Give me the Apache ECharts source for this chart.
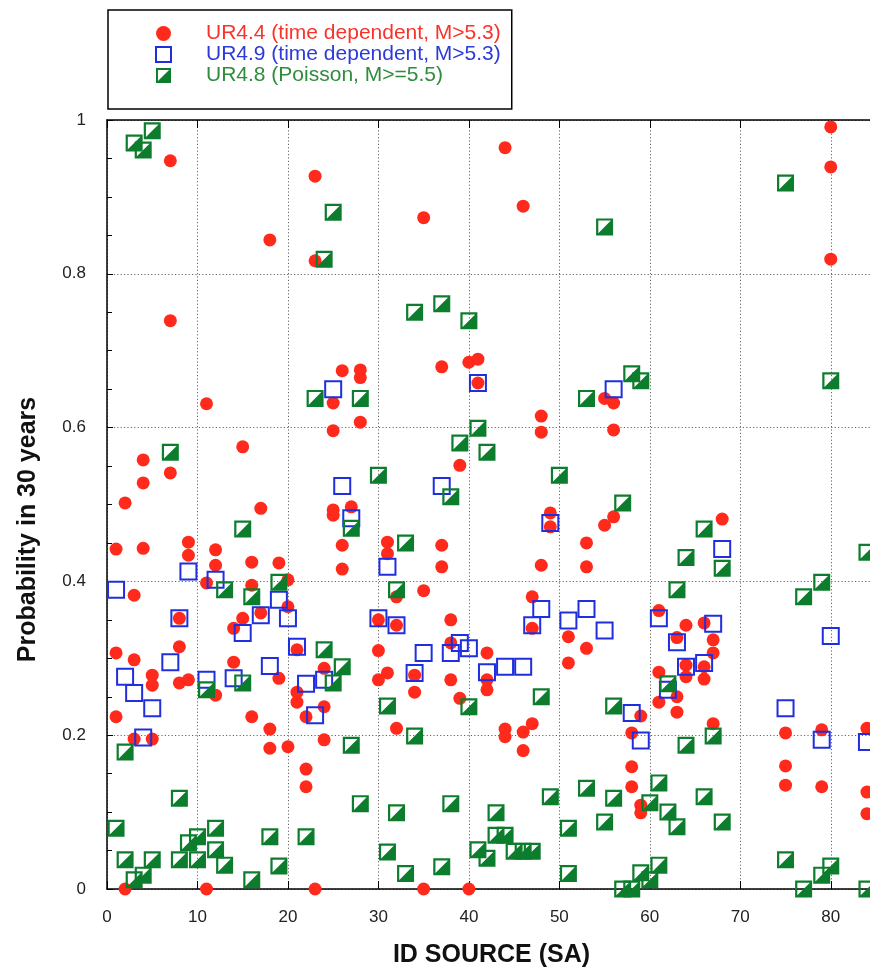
<!DOCTYPE html>
<html>
<head>
<meta charset="utf-8">
<script src="https://cdn.jsdelivr.net/npm/echarts@6/dist/echarts.min.js"></script>
<style>
  html, body { margin: 0; padding: 0; background: #fff; }
  #chart { width: 870px; height: 968px; }
</style>
</head>
<body>
<div id="chart"></div>
<script>
// ---- Data ----
const seriesNames = [
  'UR4.4 (time dependent, M>5.3)',
  'UR4.9 (time dependent, M>5.3)',
  'UR4.8 (Poisson, M>=5.5)'
];
const xTitle = 'ID SOURCE (SA)';
const yTitle = 'Probability in 30 years';

// UR4.4 (red circles): [ID source, probability]
const ur44 = [
  [7,0.947],[18,0.844],[7,0.739],[11,0.631],[15,0.575],[4,0.558],[7,0.541],[4,0.528],[2,0.502],[17,0.495],
  [1,0.442],[4,0.443],[9,0.451],[9,0.434],[12,0.441],[12,0.421],[16,0.425],[19,0.424],[11,0.398],[3,0.382],
  [16,0.395],[20,0.402],[17,0.359],[20,0.367],[15,0.352],[14,0.339],[8,0.352],[8,0.315],[1,0.307],[3,0.298],
  [14,0.295],[19,0.274],[5,0.278],[5,0.265],[8,0.268],[9,0.272],[12,0.252],[1,0.224],[16,0.224],[18,0.208],
  [18,0.183],[20,0.185],[3,0.195],[5,0.195],[2,0],[11,0],
  [23,0.927],[35,0.873],[23,0.817],[37,0.679],[40,0.685],[41,0.689],[41,0.658],[26,0.674],[28,0.675],[28,0.665],
  [25,0.632],[28,0.607],[25,0.596],[39,0.551],[27,0.497],[25,0.493],
  [25,0.486],[26,0.447],[26,0.416],[31,0.451],[31,0.436],[37,0.447],[37,0.419],[32,0.380],[35,0.388],[30,0.350],
  [32,0.343],[38,0.350],[21,0.311],[30,0.310],[38,0.320],[42,0.307],[24,0.287],[21,0.256],[21,0.243],[24,0.237],
  [22,0.224],[30,0.272],[31,0.281],[34,0.278],[34,0.256],[38,0.272],[39,0.248],[32,0.209],[24,0.194],[22,0.156],
  [22,0.133],[23,0],[35,0],[40,0],
  [44,0.964],[46,0.888],[55,0.638],[56,0.632],[48,0.615],[48,0.594],[56,0.597],[49,0.489],[49,0.471],[56,0.484],
  [55,0.473],[53,0.450],[53,0.419],[48,0.421],[47,0.380],[47,0.339],[51,0.328],[53,0.313],[51,0.294],[61,0.362],
  [63,0.327],[42,0.272],[42,0.259],[61,0.282],[61,0.243],[63,0.230],[59,0.225],[58,0.203],[44,0.208],[44,0.198],
  [46,0.204],[47,0.215],[46,0.180],[58,0.159],[58,0.133],[59,0.109],[59,0.099],
  [80,0.991],[80,0.939],[80,0.819],[68,0.481],[64,0.343],[66,0.346],[67,0.324],[67,0.307],[64,0.291],[64,0.276],
  [66,0.289],[66,0.273],[63,0.250],[67,0.215],[75,0.203],[75,0.160],[75,0.135],[79,0.207],[79,0.133],[84,0.209],
  [84,0.126],[84,0.098]
];

// UR4.9 (blue open squares)
const ur49 = [
  [1,0.389],[9,0.413],[12,0.402],[19,0.376],[17,0.356],[20,0.352],[15,0.333],[8,0.352],[7,0.295],[18,0.290],
  [2,0.276],[11,0.272],[14,0.274],[3,0.255],[5,0.235],[4,0.197],
  [41,0.658],[25,0.650],[26,0.524],[37,0.524],[27,0.482],[31,0.419],[30,0.352],[32,0.343],[21,0.315],[35,0.307],
  [38,0.307],[39,0.320],[40,0.313],[24,0.272],[22,0.267],[23,0.226],[34,0.281],[42,0.282],
  [56,0.650],[49,0.476],[48,0.364],[47,0.343],[51,0.349],[53,0.364],[55,0.336],[61,0.352],[63,0.321],[44,0.289],
  [46,0.289],[62,0.259],[58,0.229],[59,0.193],
  [68,0.442],[80,0.329],[67,0.345],[64,0.289],[66,0.294],[75,0.235],[79,0.194],[84,0.191]
];

// UR4.8 (green half-filled squares)
const ur48 = [
  [3,0.970],[4,0.961],[5,0.986],[7,0.568],[15,0.468],[13,0.389],[16,0.380],[19,0.399],[11,0.259],[15,0.268],
  [2,0.178],[8,0.118],[1,0.079],[18,0.068],[12,0.079],[10,0.068],[9,0.060],[12,0.051],[2,0.038],[5,0.038],
  [8,0.038],[10,0.038],[13,0.031],[19,0.030],[16,0.012],[4,0.018],[3,0.012],
  [25,0.880],[24,0.819],[34,0.750],[37,0.761],[40,0.739],[23,0.638],[28,0.638],[41,0.599],[39,0.580],[42,0.568],
  [30,0.538],[38,0.510],
  [27,0.469],[33,0.450],[32,0.389],[24,0.311],[26,0.289],[25,0.268],[40,0.237],[31,0.238],[34,0.199],[27,0.187],
  [28,0.111],[32,0.099],[38,0.111],[22,0.068],[31,0.048],[33,0.020],[37,0.029],[41,0.051],[42,0.040],
  [55,0.861],[53,0.638],[58,0.670],[59,0.661],[50,0.538],[57,0.502],[64,0.431],[63,0.389],[48,0.250],[62,0.267],
  [56,0.238],[60,0.112],[61,0.138],[62,0.100],[63,0.081],[49,0.120],[53,0.131],[56,0.118],[55,0.087],[43,0.099],
  [51,0.079],[43,0.070],[44,0.070],[45,0.049],[46,0.049],[47,0.049],[51,0.020],[61,0.031],[59,0.021],[60,0.012],
  [57,0],[58,0],
  [75,0.918],[80,0.661],[66,0.468],[68,0.417],[79,0.399],[77,0.380],[84,0.438],[66,0.120],[68,0.087],[75,0.038],
  [80,0.030],[79,0.018],[77,0],[84,0],[67,0.199],[64,0.187]
];

// ---- Styles ----
const RED = '#ff2a1c';
const BLUE = '#1f2fe0';
const GREEN = '#0c7d2c';
const FONT = "'Liberation Sans', Arial, Helvetica, sans-serif";
const GREEN_ICON = 'path://M0,0L10,0L10,10L0,10ZM1.3,1.3L1.3,8.7L8.7,1.3Z';

const chart = echarts.init(document.getElementById('chart'), null, { renderer: 'canvas' });

const gridLine = { show: true, lineStyle: { color: '#666', width: 1, type: [1.2, 2.2] } };
const axisLine = { show: true, onZero: false, lineStyle: { color: '#000', width: 1.5 } };
const labelStyle = { color: '#222', fontSize: 17, fontFamily: FONT };

const option = {
  animation: false,
  backgroundColor: '#fff',
  grid: { left: 107, top: 120, width: 769, height: 769, containLabel: false, outerBoundsMode: 'none' },
  legend: {
    show: true,
    orient: 'vertical',
    left: 108,
    top: 10,
    padding: [13, 11, 23, 47],
    itemGap: 0,
    itemWidth: 15,
    itemHeight: 15,
    borderColor: '#000',
    borderWidth: 1.5,
    backgroundColor: '#fff',
    selectedMode: false,
    textStyle: { fontSize: 21, lineHeight: 21, fontFamily: FONT, padding: [0, 0, 0, 30] },
    data: [
      { name: seriesNames[0], icon: 'circle', itemStyle: { color: RED }, textStyle: { color: '#f8342a' } },
      { name: seriesNames[1], icon: 'rect', itemStyle: { color: '#fff', borderColor: BLUE, borderWidth: 2 }, textStyle: { color: '#2c3ad8' } },
      { name: seriesNames[2], icon: GREEN_ICON, itemStyle: { color: GREEN }, textStyle: { color: '#2f8c3c' } }
    ]
  },
  xAxis: [
    {
      type: 'value', position: 'bottom', min: 0, max: 85, interval: 10,
      name: xTitle, nameLocation: 'middle', nameGap: 54,
      nameTextStyle: { fontSize: 25, fontWeight: 'bold', color: '#111', fontFamily: FONT },
      axisLine: axisLine,
      axisTick: { show: true, inside: true, length: 8, lineStyle: { color: '#000', width: 1 } },
      axisLabel: { ...labelStyle, margin: 20, showMaxLabel: false,
        formatter: v => (v % 10 === 0 ? String(v) : '') },
      splitLine: gridLine
    },
    {
      type: 'value', position: 'top', min: 0, max: 85, interval: 10,
      axisLine: axisLine,
      axisTick: { show: true, inside: true, length: 8, lineStyle: { color: '#000', width: 1 } },
      axisLabel: { show: false },
      splitLine: { show: false }
    }
  ],
  yAxis: [
    {
      type: 'value', position: 'left', min: 0, max: 1, interval: 0.2,
      name: yTitle, nameLocation: 'middle', nameGap: 66, nameRotate: 90,
      nameTextStyle: { fontSize: 25, fontWeight: 'bold', color: '#111', fontFamily: FONT, padding: [0, 50, 0, 0] },
      axisLine: axisLine,
      axisTick: { show: true, inside: true, length: 6, lineStyle: { color: '#000', width: 1 } },
      minorTick: { show: true, splitNumber: 4, length: 5, lineStyle: { color: '#000', width: 1 } },
      axisLabel: { ...labelStyle, margin: 21, formatter: v => (v === 0 ? '0' : v === 1 ? '1' : v.toFixed(1)) },
      splitLine: gridLine
    },
    {
      type: 'value', position: 'right', min: 0, max: 1, interval: 0.2,
      axisLine: axisLine,
      axisTick: { show: true, inside: true, length: 6, lineStyle: { color: '#000', width: 1 } },
      minorTick: { show: true, splitNumber: 4, length: 5, lineStyle: { color: '#000', width: 1 } },
      axisLabel: { show: false },
      splitLine: { show: false }
    }
  ],
  series: [
    {
      name: seriesNames[0], type: 'scatter', xAxisIndex: 0, yAxisIndex: 0,
      symbol: 'circle', symbolSize: 13,
      itemStyle: { color: RED, opacity: 1 },
      emphasis: { disabled: true },
      data: ur44, z: 2
    },
    {
      name: seriesNames[1], type: 'scatter', xAxisIndex: 0, yAxisIndex: 0,
      symbol: 'rect', symbolSize: 16,
      itemStyle: { color: 'rgba(255,255,255,0)', borderColor: BLUE, borderWidth: 2, opacity: 1 },
      emphasis: { disabled: true },
      data: ur49, z: 3
    },
    {
      name: seriesNames[2], type: 'scatter', xAxisIndex: 0, yAxisIndex: 0,
      symbol: GREEN_ICON, symbolSize: 17,
      itemStyle: { color: GREEN, opacity: 1 },
      emphasis: { disabled: true },
      data: ur48, z: 4
    }
  ]
};

chart.setOption(option);
</script>
</body>
</html>
